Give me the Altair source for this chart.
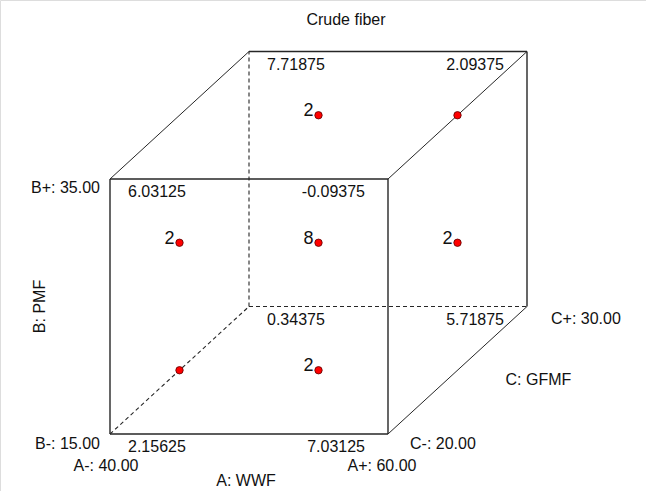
import altair as alt
import pandas as pd

# Corner responses of the 2^3 cube, coded levels (A, B, C)
corner_A = [-1, 1, -1, 1, -1, 1, -1, 1]
corner_B = [-1, -1, 1, 1, -1, -1, 1, 1]
corner_C = [-1, -1, -1, -1, 1, 1, 1, 1]
corner_value = ["2.15625", "7.03125", "6.03125", "-0.09375",
                "0.34375", "5.71875", "7.71875", "2.09375"]

# Design runs inside the cube with their replicate counts
run_A = [0, -1, 0, 1, 0, 1, -1]
run_B = [1, 0, 0, 0, -1, 1, -1]
run_C = [0, 0, 0, 0, 0, 0, 0]
run_count = [2, 2, 8, 2, 2, 1, 1]

chart_title = "Crude fiber"
factor_labels = {
    "A": ["A: WWF", "A-: 40.00", "A+: 60.00"],
    "B": ["B: PMF", "B-: 15.00", "B+: 35.00"],
    "C": ["C: GFMF", "C-: 20.00", "C+: 30.00"],
}

FONT = "Liberation Sans"
FS = 16
DEPTH = 0.5  # oblique shift per unit of C


def proj(a, b, c):
    return a + DEPTH * c, b + DEPTH * c


# Corners
corners = pd.DataFrame({"A": corner_A, "B": corner_B, "C": corner_C, "label": corner_value})
corners["X"], corners["Y"] = zip(*[proj(a, b, c) for a, b, c in zip(corner_A, corner_B, corner_C)])

# Edges: pairs of corners that differ in exactly one factor
edges = []
pts = list(zip(corner_A, corner_B, corner_C))
hidden = (-1, -1, 1)
for i in range(len(pts)):
    for j in range(i + 1, len(pts)):
        p, q = pts[i], pts[j]
        if sum(u != v for u, v in zip(p, q)) == 1:
            x1, y1 = proj(*p)
            x2, y2 = proj(*q)
            edges.append({"x": x1, "y": y1, "x2": x2, "y2": y2,
                          "hidden": p == hidden or q == hidden,
                          "depth": p[2] != q[2]})
edges = pd.DataFrame(edges)

runs = pd.DataFrame({"A": run_A, "B": run_B, "C": run_C, "n": run_count})
runs["X"], runs["Y"] = zip(*[proj(a, b, c) for a, b, c in zip(run_A, run_B, run_C)])
runs["lab"] = runs["n"].astype(str)

# Factor label anchors
fa = factor_labels["A"]
fb = factor_labels["B"]
fc = factor_labels["C"]
fx, fy = proj(-1, -1, -1)
rx, ry = proj(1, -1, -1)
bx, by = proj(1, -1, 1)
tx, ty = proj(-1, 1, -1)
mx, my = proj(0, -1, -1)
lx, ly = proj(-1, 0, -1)
ex, ey = proj(1, -1, 0)

PX_X = 139.0
PX_Y = 127.5
left_px, bottom_px = 110.0, 434.0
W, H = 646, 491
xmin = -1.5 - left_px / PX_X
xmax = xmin + W / PX_X
ymin = -1.5 - (H - bottom_px) / PX_Y
ymax = ymin + H / PX_Y

xs = alt.Scale(domain=[xmin, xmax], nice=False, zero=False)
ys = alt.Scale(domain=[ymin, ymax], nice=False, zero=False)
X = alt.X("x:Q", scale=xs, axis=None)
Y = alt.Y("y:Q", scale=ys, axis=None)

solid_face = alt.Chart(edges).transform_filter("!datum.hidden && !datum.depth").mark_rule(
    color="#262626", strokeWidth=1.4
).encode(X, Y, x2="x2:Q", y2="y2:Q")

solid_depth = alt.Chart(edges).transform_filter("!datum.hidden && datum.depth").mark_rule(
    color="#262626", strokeWidth=1.0
).encode(X, Y, x2="x2:Q", y2="y2:Q")

dashed = alt.Chart(edges).transform_filter("datum.hidden").mark_rule(
    color="#262626", strokeWidth=1.1, strokeDash=[4, 3]
).encode(X, Y, x2="x2:Q", y2="y2:Q")

XC = alt.X("X:Q", scale=xs, axis=None)
YC = alt.Y("Y:Q", scale=ys, axis=None)

txt = dict(font=FONT, fontSize=FS, color="#111", baseline="middle")

corner_left = alt.Chart(corners).transform_filter("datum.A < 0").mark_text(
    align="left", dx=18, dy=13, **txt
).encode(XC, YC, text="label:N")
corner_right = alt.Chart(corners).transform_filter("datum.A > 0").mark_text(
    align="right", dx=-23, dy=13, **txt
).encode(XC, YC, text="label:N")

dots = alt.Chart(runs).mark_point(
    filled=True, shape="circle", size=55, color="#ff0000",
    stroke="#5a0000", strokeWidth=0.8, opacity=1
).encode(XC, YC)

counts = alt.Chart(runs).transform_filter("datum.n > 1").mark_text(
    align="right", dx=-5, dy=-4, **{**txt, "fontSize": 18}
).encode(XC, YC, text="lab:N")

labels = pd.DataFrame([
    {"X": tx, "Y": ty, "t": fb[2], "align": "right", "dx": -10, "dy": 9},
    {"X": fx, "Y": fy, "t": fb[1], "align": "right", "dx": -10, "dy": 10},
    {"X": fx, "Y": fy, "t": fa[1], "align": "center", "dx": -4, "dy": 32},
    {"X": rx, "Y": ry, "t": fa[2], "align": "center", "dx": -6, "dy": 32},
    {"X": mx, "Y": my, "t": fa[0], "align": "center", "dx": -3, "dy": 47},
    {"X": rx, "Y": ry, "t": fc[1], "align": "left", "dx": 22, "dy": 10},
    {"X": bx, "Y": by, "t": fc[2], "align": "left", "dx": 24, "dy": 12},
    {"X": ex, "Y": ey, "t": fc[0], "align": "left", "dx": 48, "dy": 10},
])

factor_layers = []
for _, r in labels.iterrows():
    factor_layers.append(
        alt.Chart(pd.DataFrame([r])).mark_text(
            align=r["align"], dx=int(r["dx"]), dy=int(r["dy"]), **txt
        ).encode(XC, YC, text="t:N")
    )

pmf = alt.Chart(pd.DataFrame({"X": [lx], "Y": [ly], "t": [fb[0]]})).mark_text(
    angle=270, dx=0, dy=-70, **txt
).encode(XC, YC, text="t:N")

title = alt.Chart(pd.DataFrame({"t": [chart_title]})).mark_text(
    font=FONT, fontSize=FS, color="#111", align="center", baseline="middle"
).encode(x=alt.value(346), y=alt.value(20), text="t:N")

chart = alt.layer(
    solid_face, solid_depth, dashed, dots, corner_left, corner_right, counts,
    *factor_layers, pmf, title
).properties(
    width=W, height=H, padding=0, autosize=alt.AutoSizeParams(type="none")
).configure_view(stroke=None).configure(background="white")

chart.save("out.html", embed_options={"renderer": "svg", "actions": False})
